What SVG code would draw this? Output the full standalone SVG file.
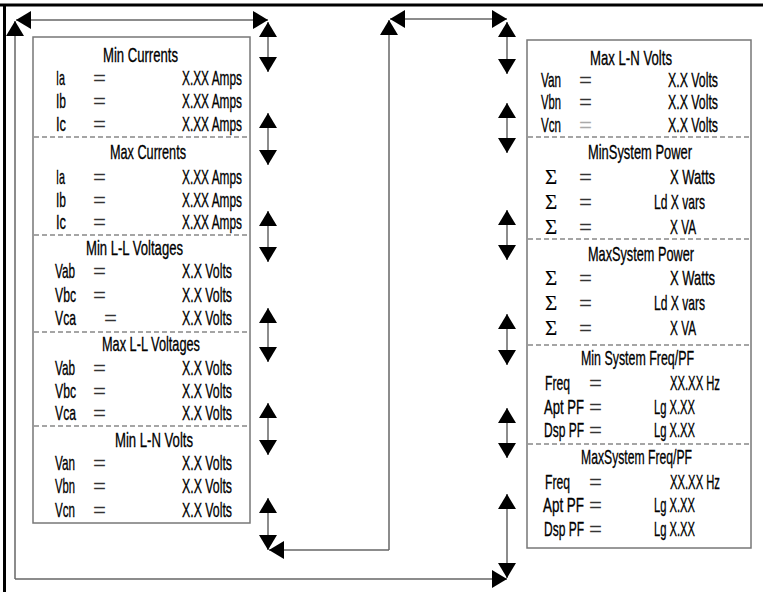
<svg xmlns="http://www.w3.org/2000/svg" width="763" height="592" viewBox="0 0 763 592">
<style>
text{font-family:"Liberation Sans Narrow","Liberation Sans",Arial,sans-serif;font-size:21px;fill:#000;stroke:#000;stroke-width:0.35;}
.sig{font-family:"Liberation Serif","DejaVu Serif",serif;font-size:21px;stroke-width:0.2;}
.eq{font-family:"Liberation Sans",Arial,sans-serif;font-size:20px;fill:#333;stroke:none;}
.eq2{font-family:"Liberation Sans",Arial,sans-serif;font-size:20px;fill:#aaa;stroke:none;}
.box{fill:#fff;stroke:#777;stroke-width:1.5;}
.dash{stroke:#888;stroke-width:1.3;stroke-dasharray:5,3;fill:none;}
.con{stroke:#666;stroke-width:1.5;fill:none;}
.frame{stroke:#000;stroke-width:3;fill:none;}
</style>
<defs>
<marker id="ah" viewBox="0 0 15 18" refX="15" refY="9" markerWidth="15" markerHeight="18" markerUnits="userSpaceOnUse" orient="auto-start-reverse">
<path d="M0,0 L15,9 L0,18 z" fill="#000"/>
</marker>
</defs>
<rect width="763" height="592" fill="#fff"/>
<g id="frame">
<path class="frame" d="M0,5 H763 M4.5,5 V592"/>
</g>
<g id="connectors">
<path class="con" d="M16,20 H268" marker-start="url(#ah)" marker-end="url(#ah)"/>
<path class="con" d="M15,579 V21" marker-end="url(#ah)"/>
<path class="con" d="M15,579 H507" marker-end="url(#ah)"/>
<path class="con" d="M268,22 V72" marker-start="url(#ah)" marker-end="url(#ah)"/>
<path class="con" d="M268,113 V165" marker-start="url(#ah)" marker-end="url(#ah)"/>
<path class="con" d="M268,211 V262" marker-start="url(#ah)" marker-end="url(#ah)"/>
<path class="con" d="M268,308 V362" marker-start="url(#ah)" marker-end="url(#ah)"/>
<path class="con" d="M268,403 V455" marker-start="url(#ah)" marker-end="url(#ah)"/>
<path class="con" d="M268,498 V550" marker-start="url(#ah)" marker-end="url(#ah)"/>
<path class="con" d="M389,550 H269" marker-end="url(#ah)"/>
<path class="con" d="M389,550 V20" marker-end="url(#ah)"/>
<path class="con" d="M390,19 H507" marker-start="url(#ah)" marker-end="url(#ah)"/>
<path class="con" d="M507,22 V74" marker-start="url(#ah)" marker-end="url(#ah)"/>
<path class="con" d="M507,103 V153" marker-start="url(#ah)" marker-end="url(#ah)"/>
<path class="con" d="M507,210 V260" marker-start="url(#ah)" marker-end="url(#ah)"/>
<path class="con" d="M507,314 V365" marker-start="url(#ah)" marker-end="url(#ah)"/>
<path class="con" d="M507,408 V458" marker-start="url(#ah)" marker-end="url(#ah)"/>
<path class="con" d="M507,494 V578" marker-start="url(#ah)" marker-end="url(#ah)"/>
</g>
<g id="left-panel">
<rect class="box" x="33" y="37" width="217" height="486"/>
<path class="dash" d="M34,137 H249 M34,235 H249 M34,332 H249 M34,426 H249"/>
<text x="103" y="62" textLength="75" lengthAdjust="spacingAndGlyphs">Min Currents</text>
<text x="56" y="85" textLength="9" lengthAdjust="spacingAndGlyphs">Ia</text>
<text class="eq" x="93" y="85" textLength="13" lengthAdjust="spacingAndGlyphs">=</text>
<text x="182" y="85" textLength="60" lengthAdjust="spacingAndGlyphs">X.XX Amps</text>
<text x="56" y="108" textLength="10" lengthAdjust="spacingAndGlyphs">Ib</text>
<text class="eq" x="93" y="108" textLength="13" lengthAdjust="spacingAndGlyphs">=</text>
<text x="182" y="108" textLength="60" lengthAdjust="spacingAndGlyphs">X.XX Amps</text>
<text x="56" y="131" textLength="10" lengthAdjust="spacingAndGlyphs">Ic</text>
<text class="eq" x="93" y="131" textLength="13" lengthAdjust="spacingAndGlyphs">=</text>
<text x="182" y="131" textLength="60" lengthAdjust="spacingAndGlyphs">X.XX Amps</text>
<text x="110" y="159" textLength="76" lengthAdjust="spacingAndGlyphs">Max Currents</text>
<text x="56" y="184" textLength="9" lengthAdjust="spacingAndGlyphs">Ia</text>
<text class="eq" x="93" y="184" textLength="13" lengthAdjust="spacingAndGlyphs">=</text>
<text x="182" y="184" textLength="60" lengthAdjust="spacingAndGlyphs">X.XX Amps</text>
<text x="56" y="207" textLength="10" lengthAdjust="spacingAndGlyphs">Ib</text>
<text class="eq" x="93" y="207" textLength="13" lengthAdjust="spacingAndGlyphs">=</text>
<text x="182" y="207" textLength="60" lengthAdjust="spacingAndGlyphs">X.XX Amps</text>
<text x="56" y="229" textLength="10" lengthAdjust="spacingAndGlyphs">Ic</text>
<text class="eq" x="93" y="229" textLength="13" lengthAdjust="spacingAndGlyphs">=</text>
<text x="182" y="229" textLength="60" lengthAdjust="spacingAndGlyphs">X.XX Amps</text>
<text x="86" y="255" textLength="97" lengthAdjust="spacingAndGlyphs">Min L-L Voltages</text>
<text x="55" y="278" textLength="20" lengthAdjust="spacingAndGlyphs">Vab</text>
<text class="eq" x="93" y="278" textLength="13" lengthAdjust="spacingAndGlyphs">=</text>
<text x="182" y="278" textLength="50" lengthAdjust="spacingAndGlyphs">X.X Volts</text>
<text x="55" y="302" textLength="21" lengthAdjust="spacingAndGlyphs">Vbc</text>
<text class="eq" x="93" y="302" textLength="13" lengthAdjust="spacingAndGlyphs">=</text>
<text x="182" y="302" textLength="50" lengthAdjust="spacingAndGlyphs">X.X Volts</text>
<text x="55" y="325" textLength="21" lengthAdjust="spacingAndGlyphs">Vca</text>
<text class="eq" x="104" y="325" textLength="13" lengthAdjust="spacingAndGlyphs">=</text>
<text x="182" y="325" textLength="50" lengthAdjust="spacingAndGlyphs">X.X Volts</text>
<text x="102" y="351" textLength="98" lengthAdjust="spacingAndGlyphs">Max L-L Voltages</text>
<text x="55" y="375" textLength="20" lengthAdjust="spacingAndGlyphs">Vab</text>
<text class="eq" x="93" y="375" textLength="13" lengthAdjust="spacingAndGlyphs">=</text>
<text x="182" y="375" textLength="50" lengthAdjust="spacingAndGlyphs">X.X Volts</text>
<text x="55" y="398" textLength="21" lengthAdjust="spacingAndGlyphs">Vbc</text>
<text class="eq" x="93" y="398" textLength="13" lengthAdjust="spacingAndGlyphs">=</text>
<text x="182" y="398" textLength="50" lengthAdjust="spacingAndGlyphs">X.X Volts</text>
<text x="55" y="420" textLength="21" lengthAdjust="spacingAndGlyphs">Vca</text>
<text class="eq" x="93" y="420" textLength="13" lengthAdjust="spacingAndGlyphs">=</text>
<text x="182" y="420" textLength="50" lengthAdjust="spacingAndGlyphs">X.X Volts</text>
<text x="115" y="447" textLength="78" lengthAdjust="spacingAndGlyphs">Min L-N Volts</text>
<text x="55" y="470" textLength="20" lengthAdjust="spacingAndGlyphs">Van</text>
<text class="eq" x="93" y="470" textLength="13" lengthAdjust="spacingAndGlyphs">=</text>
<text x="182" y="470" textLength="50" lengthAdjust="spacingAndGlyphs">X.X Volts</text>
<text x="55" y="493" textLength="20" lengthAdjust="spacingAndGlyphs">Vbn</text>
<text class="eq" x="93" y="493" textLength="13" lengthAdjust="spacingAndGlyphs">=</text>
<text x="182" y="493" textLength="50" lengthAdjust="spacingAndGlyphs">X.X Volts</text>
<text x="55" y="517" textLength="20" lengthAdjust="spacingAndGlyphs">Vcn</text>
<text class="eq" x="93" y="517" textLength="13" lengthAdjust="spacingAndGlyphs">=</text>
<text x="182" y="517" textLength="50" lengthAdjust="spacingAndGlyphs">X.X Volts</text>
</g>
<g id="right-panel">
<rect class="box" x="527" y="40" width="224" height="508"/>
<path class="dash" d="M528,137 H750 M528,239 H750 M528,345 H750 M528,444 H750"/>
<text x="590" y="65" textLength="82" lengthAdjust="spacingAndGlyphs">Max  L-N Volts</text>
<text x="541" y="87" textLength="20" lengthAdjust="spacingAndGlyphs">Van</text>
<text class="eq" x="579" y="87" textLength="13" lengthAdjust="spacingAndGlyphs">=</text>
<text x="668" y="87" textLength="50" lengthAdjust="spacingAndGlyphs">X.X Volts</text>
<text x="541" y="109" textLength="20" lengthAdjust="spacingAndGlyphs">Vbn</text>
<text class="eq" x="579" y="109" textLength="13" lengthAdjust="spacingAndGlyphs">=</text>
<text x="668" y="109" textLength="50" lengthAdjust="spacingAndGlyphs">X.X Volts</text>
<text x="541" y="132" textLength="20" lengthAdjust="spacingAndGlyphs">Vcn</text>
<text class="eq2" x="579" y="132" textLength="13" lengthAdjust="spacingAndGlyphs">=</text>
<text x="668" y="132" textLength="50" lengthAdjust="spacingAndGlyphs">X.X Volts</text>
<text x="588" y="159" textLength="104" lengthAdjust="spacingAndGlyphs">MinSystem Power</text>
<text class="sig" x="545" y="184">Σ</text>
<text class="eq" x="579" y="184" textLength="13" lengthAdjust="spacingAndGlyphs">=</text>
<text x="670" y="184" textLength="45" lengthAdjust="spacingAndGlyphs">X Watts</text>
<text class="sig" x="545" y="209">Σ</text>
<text class="eq" x="579" y="209" textLength="13" lengthAdjust="spacingAndGlyphs">=</text>
<text x="654" y="209" textLength="51" lengthAdjust="spacingAndGlyphs">Ld X vars</text>
<text class="sig" x="545" y="234">Σ</text>
<text class="eq" x="579" y="234" textLength="13" lengthAdjust="spacingAndGlyphs">=</text>
<text x="670" y="234" textLength="26" lengthAdjust="spacingAndGlyphs">X VA</text>
<text x="588" y="261" textLength="106" lengthAdjust="spacingAndGlyphs">MaxSystem Power</text>
<text class="sig" x="545" y="285">Σ</text>
<text class="eq" x="579" y="285" textLength="13" lengthAdjust="spacingAndGlyphs">=</text>
<text x="670" y="285" textLength="45" lengthAdjust="spacingAndGlyphs">X Watts</text>
<text class="sig" x="545" y="310">Σ</text>
<text class="eq" x="579" y="310" textLength="13" lengthAdjust="spacingAndGlyphs">=</text>
<text x="654" y="310" textLength="51" lengthAdjust="spacingAndGlyphs">Ld X vars</text>
<text class="sig" x="545" y="335">Σ</text>
<text class="eq" x="579" y="335" textLength="13" lengthAdjust="spacingAndGlyphs">=</text>
<text x="670" y="335" textLength="26" lengthAdjust="spacingAndGlyphs">X VA</text>
<text x="581" y="365" textLength="113" lengthAdjust="spacingAndGlyphs">Min System Freq/PF</text>
<text x="545" y="390" textLength="25" lengthAdjust="spacingAndGlyphs">Freq</text>
<text class="eq" x="589" y="390" textLength="13" lengthAdjust="spacingAndGlyphs">=</text>
<text x="670" y="390" textLength="50" lengthAdjust="spacingAndGlyphs">XX.XX Hz</text>
<text x="544" y="414" textLength="40" lengthAdjust="spacingAndGlyphs">Apt PF</text>
<text class="eq" x="589" y="414" textLength="13" lengthAdjust="spacingAndGlyphs">=</text>
<text x="654" y="414" textLength="41" lengthAdjust="spacingAndGlyphs">Lg X.XX</text>
<text x="544" y="437" textLength="40" lengthAdjust="spacingAndGlyphs">Dsp PF</text>
<text class="eq" x="589" y="437" textLength="13" lengthAdjust="spacingAndGlyphs">=</text>
<text x="654" y="437" textLength="41" lengthAdjust="spacingAndGlyphs">Lg X.XX</text>
<text x="581" y="464" textLength="111" lengthAdjust="spacingAndGlyphs">MaxSystem Freq/PF</text>
<text x="545" y="489" textLength="25" lengthAdjust="spacingAndGlyphs">Freq</text>
<text class="eq" x="589" y="489" textLength="13" lengthAdjust="spacingAndGlyphs">=</text>
<text x="670" y="489" textLength="50" lengthAdjust="spacingAndGlyphs">XX.XX Hz</text>
<text x="543" y="512" textLength="41" lengthAdjust="spacingAndGlyphs">Apt PF</text>
<text class="eq" x="589" y="512" textLength="13" lengthAdjust="spacingAndGlyphs">=</text>
<text x="654" y="512" textLength="41" lengthAdjust="spacingAndGlyphs">Lg X.XX</text>
<text x="544" y="536" textLength="40" lengthAdjust="spacingAndGlyphs">Dsp PF</text>
<text class="eq" x="589" y="536" textLength="13" lengthAdjust="spacingAndGlyphs">=</text>
<text x="654" y="536" textLength="41" lengthAdjust="spacingAndGlyphs">Lg X.XX</text>
</g>
</svg>
